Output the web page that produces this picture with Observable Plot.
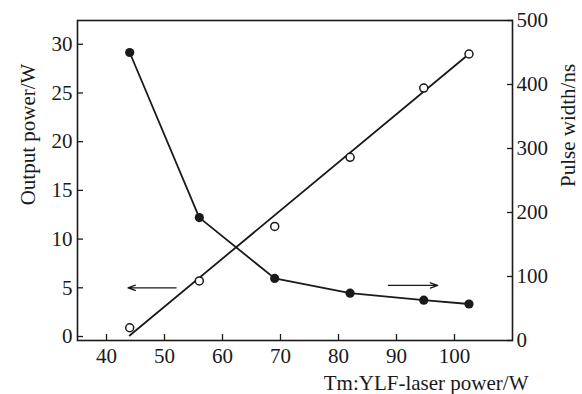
<!DOCTYPE html>
<html><head><meta charset="utf-8">
<script src="https://cdn.jsdelivr.net/npm/d3@7"></script>
<script src="https://cdn.jsdelivr.net/npm/@observablehq/plot@0.6"></script>
<style>html,body{margin:0;padding:0;background:#fff;}</style>
</head><body><div id="chart"></div>
<script>
// Data
const pumpPower   = [44, 56, 69, 82, 94.7, 102.5];      // Tm:YLF-laser power / W
const outputPower = [0.9, 5.7, 11.3, 18.4, 25.5, 29.0];  // Output power / W (open circles)
const pulseWidth  = [450, 192, 97, 74, 63, 57];          // Pulse width / ns (filled circles)
const fitPump     = [44, 102.5];                         // linear-fit line end points (x)
const fitOutput   = [0.1, 29.0];                         // linear-fit line end points (y)
const xTicks      = [40, 50, 60, 70, 80, 90, 100];
const leftTicks   = [0, 5, 10, 15, 20, 25, 30];
const rightTicks  = [0, 100, 200, 300, 400, 500];
const arrowsLeft  = [{x1: 52, x2: 43.7, y: 5}];          // points to left axis (output power units)
const arrowsRight = [{x1: 88.6, x2: 97.1, y: 86}];       // points to right axis (pulse-width units)

const xDomain = [35, 110];
const leftDomain = [-0.41, 32.44];
const rightDomain = [0, 500];
const toLeft = p => leftDomain[0] + (p - rightDomain[0]) * (leftDomain[1] - leftDomain[0]) / (rightDomain[1] - rightDomain[0]);
const fromLeft = v => rightDomain[0] + (v - leftDomain[0]) * (rightDomain[1] - rightDomain[0]) / (leftDomain[1] - leftDomain[0]);

const idx = d3.range(pumpPower.length);
const fitIdx = d3.range(fitPump.length);
const ink = "#1a1a1a";

const chart = Plot.plot({
  width: 582,
  height: 394,
  marginLeft: 77,
  marginRight: 70,
  marginTop: 20,
  marginBottom: 54,
  style: {fontFamily: "'Liberation Serif', 'DejaVu Serif', serif", fontSize: "21px", color: ink, background: "#fff"},
  x: {domain: xDomain},
  y: {domain: leftDomain},
  marks: [
    // axes: inward ticks
    Plot.axisX(xTicks, {anchor: "bottom", tickSize: -6, fill: "none", stroke: ink, strokeWidth: 1.3, label: null}),
    Plot.axisX(xTicks, {anchor: "bottom", tickSize: 0, tickPadding: 8, fill: ink, label: null}),
    Plot.axisY(leftTicks, {anchor: "left", tickSize: -6, fill: "none", stroke: ink, strokeWidth: 1.3, label: null}),
    Plot.axisY(leftTicks, {anchor: "left", tickSize: 0, tickPadding: 5, fill: ink, label: null}),
    Plot.axisY(rightTicks.map(toLeft), {anchor: "right", tickSize: -6, fill: "none", stroke: ink, strokeWidth: 1.3, label: null}),
    Plot.axisY(rightTicks.map(toLeft), {anchor: "right", tickSize: 0, tickPadding: 4, fill: ink, label: null,
      tickFormat: v => String(Math.round(fromLeft(v)))}),
    Plot.frame({stroke: ink, strokeWidth: 1.6}),
    // linear fit of output power
    Plot.line(fitIdx, {x: i => fitPump[i], y: i => fitOutput[i], stroke: ink, strokeWidth: 1.8}),
    // pulse width (right axis)
    Plot.line(idx, {x: i => pumpPower[i], y: i => toLeft(pulseWidth[i]), stroke: ink, strokeWidth: 1.8}),
    Plot.dot(idx, {x: i => pumpPower[i], y: i => toLeft(pulseWidth[i]), r: 4.6, fill: ink, stroke: "none"}),
    // output power (left axis)
    Plot.dot(idx, {x: i => pumpPower[i], y: i => outputPower[i], r: 4, fill: "#fff", stroke: ink, strokeWidth: 1.5}),
    // arrows
    Plot.arrow(arrowsLeft, {x1: "x1", x2: "x2", y1: "y", y2: "y", stroke: ink, strokeWidth: 1.3, headLength: 9, headAngle: 40}),
    Plot.arrow(arrowsRight, {x1: "x1", x2: "x2", y1: d => toLeft(d.y), y2: d => toLeft(d.y), stroke: ink, strokeWidth: 1.3, headLength: 9, headAngle: 40}),
    // axis titles
    Plot.text(["Output power/W"], {frameAnchor: "left", dx: -49, dy: -46, rotate: -90, textAnchor: "middle", lineAnchor: "middle", fill: ink, fontSize: 21, letterSpacing: 1.2}),
    Plot.text(["Pulse width/ns"], {frameAnchor: "right", dx: 56, dy: -55, rotate: -90, textAnchor: "middle", lineAnchor: "middle", fill: ink, fontSize: 21}),
    Plot.text(["Tm:YLF-laser power/W"], {frameAnchor: "bottom-right", dx: 16, dy: 43, textAnchor: "end", lineAnchor: "middle", fill: ink, fontSize: 21, letterSpacing: 1.5})
  ]
});
document.getElementById("chart").appendChild(chart);
</script>
</body></html>
